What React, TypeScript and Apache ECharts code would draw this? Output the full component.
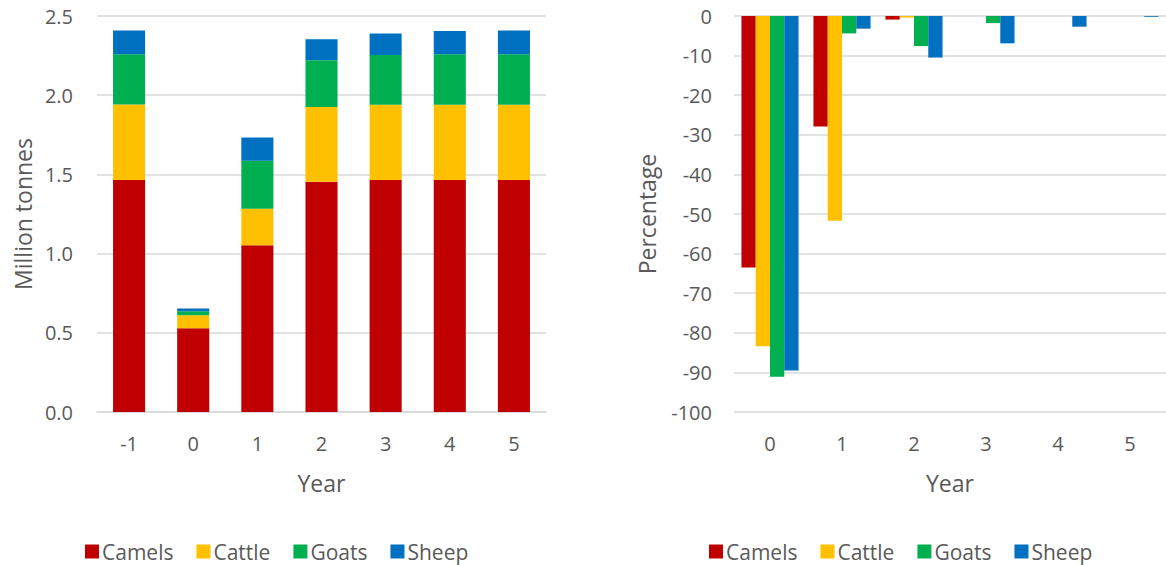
import React, { useEffect, useRef } from "react";
import * as echarts from "echarts";

// Production by species (million tonnes), years relative to the event
const productionYears = ["-1", "0", "1", "2", "3", "4", "5"];
const camelsTonnes = [1.464, 0.529, 1.053, 1.453, 1.464, 1.464, 1.464];
const cattleTonnes = [0.478, 0.082, 0.230, 0.472, 0.476, 0.476, 0.476];
const goatsTonnes = [0.316, 0.025, 0.303, 0.295, 0.314, 0.318, 0.318];
const sheepTonnes = [0.151, 0.017, 0.147, 0.133, 0.136, 0.147, 0.151];

// Percentage change by species
const changeYears = ["0", "1", "2", "3", "4", "5"];
const camelsPct = [-63.5, -27.9, -0.9, 0, 0, 0];
const cattlePct = [-83.4, -51.7, -0.4, 0, 0, 0];
const goatsPct = [-91.1, -4.4, -7.6, -1.8, 0, 0];
const sheepPct = [-89.5, -3.2, -10.5, -6.9, -2.7, -0.2];

const speciesNames = ["Camels", "Cattle", "Goats", "Sheep"];
const speciesColors = ["#C00000", "#FFC000", "#00B050", "#0070C0"];

const FONT = "'Open Sans', sans-serif";
const TEXT = "#595959";
const GRID = "#D9D9D9";

export default function App() {
  const ref = useRef<HTMLDivElement>(null);

  useEffect(() => {
    if (!ref.current) return;
    const chart = echarts.init(ref.current, null, { renderer: "svg" });

    const labelStyle = { color: TEXT, fontSize: 20, fontFamily: FONT };
    const nameStyle = { color: TEXT, fontSize: 23, fontFamily: FONT };

    const stacked = [camelsTonnes, cattleTonnes, goatsTonnes, sheepTonnes];
    const grouped = [camelsPct, cattlePct, goatsPct, sheepPct];

    const legendCommon = {
      icon: "rect",
      itemWidth: 14,
      itemHeight: 14,
      itemGap: 23,
      padding: 0,
      top: 541,
      textStyle: { color: TEXT, fontSize: 21, fontFamily: FONT, padding: [0, 0, 0, -2] },
      data: speciesNames,
    };

    chart.setOption({
      animation: false,
      backgroundColor: "#ffffff",
      textStyle: { fontFamily: FONT },
      grid: [
        { left: 97, top: 16, width: 449, height: 396 },
        { left: 734, top: 16, width: 438, height: 396 },
      ],
      legend: [
        { ...legendCommon, left: 85 },
        { ...legendCommon, left: 709 },
      ],
      xAxis: [
        {
          type: "category",
          gridIndex: 0,
          data: productionYears,
          axisTick: { show: false },
          axisLine: { lineStyle: { color: GRID, width: 1.5 } },
          axisLabel: { ...labelStyle, margin: 21 },
          name: "Year",
          nameLocation: "middle",
          nameGap: 59,
          nameTextStyle: nameStyle,
        },
        {
          type: "category",
          gridIndex: 1,
          data: changeYears,
          position: "bottom",
          axisTick: { show: false },
          axisLine: { show: false, onZero: false },
          axisLabel: { ...labelStyle, margin: 21 },
          name: "Year",
          nameLocation: "middle",
          nameGap: 59,
          nameTextStyle: nameStyle,
        },
      ],
      yAxis: [
        {
          type: "value",
          gridIndex: 0,
          min: 0,
          max: 2.5,
          interval: 0.5,
          axisLine: { show: false },
          axisTick: { show: false },
          splitLine: { lineStyle: { color: GRID, width: 1.5 } },
          axisLabel: { ...labelStyle, margin: 24, formatter: (v: number) => v.toFixed(1) },
          name: "Million tonnes",
          nameLocation: "middle",
          nameGap: 63,
          nameTextStyle: nameStyle,
        },
        {
          type: "value",
          gridIndex: 1,
          min: -100,
          max: 0,
          interval: 10,
          axisLine: { show: false },
          axisTick: { show: false },
          splitLine: { lineStyle: { color: GRID, width: 1.5 } },
          axisLabel: { ...labelStyle, margin: 22 },
          name: "Percentage",
          nameLocation: "middle",
          nameGap: 76,
          nameTextStyle: nameStyle,
        },
      ],
      series: [
        ...speciesNames.map((name, i) => ({
          name,
          type: "bar",
          xAxisIndex: 0,
          yAxisIndex: 0,
          stack: "production",
          barWidth: "50%",
          itemStyle: { color: speciesColors[i] },
          data: stacked[i],
        })),
        ...speciesNames.map((name, i) => ({
          name,
          type: "bar",
          xAxisIndex: 1,
          yAxisIndex: 1,
          barGap: "0%",
          barCategoryGap: "20.7%",
          itemStyle: { color: speciesColors[i] },
          data: grouped[i],
        })),
      ],
    });

    return () => chart.dispose();
  }, []);

  return (
    <div
      ref={ref}
      style={{ position: "fixed", left: 0, top: 0, width: 1166, height: 565, background: "#fff" }}
    />
  );
}
